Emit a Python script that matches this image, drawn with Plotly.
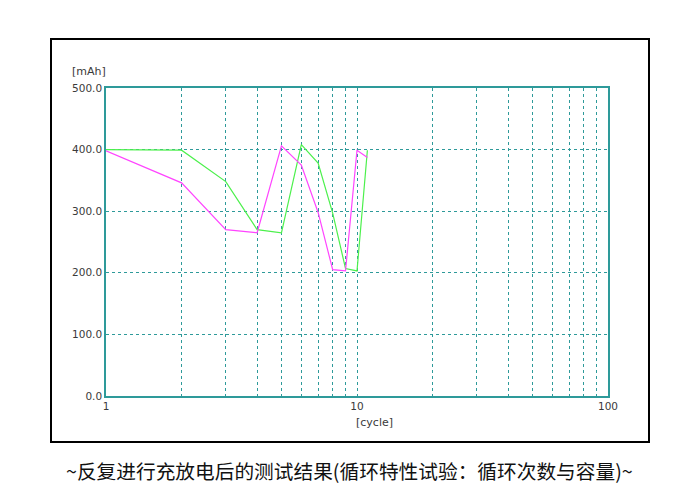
import plotly.graph_objects as go

cycles = [1, 2, 3, 4, 5, 6, 7, 8, 9, 10, 11]
capacity_pink = [398, 346, 270, 265, 406, 375, 298, 205, 203, 399, 387]
capacity_green = [400, 399, 348, 270, 265, 408, 378, 297, 207, 203, 399]

x_tickvals = [1, 2, 3, 4, 5, 6, 7, 8, 9, 10, 20, 30, 40, 50, 60, 70, 80, 90, 100]
x_ticktext = ["1", "", "", "", "", "", "", "", "", "10", "", "", "", "", "", "", "", "", "100"]
y_tickvals = [0, 100, 200, 300, 400, 500]
y_ticktext = ["0.0", "100.0", "200.0", "300.0", "400.0", "500.0"]

caption = "~反复进行充放电后的测试结果(循环特性试验：循环次数与容量)~"

OFF = 8  # default page body margin
W, H = 698 - OFF, 487 - OFF
L, R, T, B = 106 - OFF, 608 - OFF, 88 - OFF, 396 - OFF

teal = "#2e9a9a"
fig = go.Figure()
fig.add_trace(go.Scatter(x=cycles, y=capacity_green, mode="lines",
                         line=dict(color="#4cf04c", width=1.2), showlegend=False))
fig.add_trace(go.Scatter(x=cycles, y=capacity_pink, mode="lines",
                         line=dict(color="#ff44ff", width=1.2), showlegend=False))

fig.update_layout(
    width=W, height=H,
    margin=dict(l=L, r=W - R, t=T, b=H - B),
    paper_bgcolor="white", plot_bgcolor="white",
    font=dict(family="DejaVu Sans", size=10.5, color="#3a3a3a"),
    xaxis=dict(type="log", range=[0, 2], tickvals=x_tickvals, ticktext=x_ticktext,
               showgrid=True, gridcolor=teal, griddash="dot", gridwidth=1,
               showline=True, mirror=True, linecolor=teal, linewidth=1.5,
               ticks="", zeroline=False, fixedrange=True),
    yaxis=dict(range=[0, 500], tickvals=y_tickvals, ticktext=y_ticktext,
               showgrid=True, gridcolor=teal, griddash="dot", gridwidth=1,
               showline=True, mirror=True, linecolor=teal, linewidth=1.5,
               ticks="", zeroline=False, fixedrange=True),
)

pw, ph = R - L, B - T
def px(x):
    return (x - OFF - L) / pw
def py(y):
    return (B - (y - OFF)) / ph

fig.add_shape(type="rect", xref="paper", yref="paper",
              x0=px(51), x1=px(649), y0=py(442), y1=py(39),
              line=dict(color="black", width=2), fillcolor="rgba(0,0,0,0)", layer="below")

fig.add_annotation(text="[mAh]", xref="paper", yref="paper", x=px(89), y=py(72),
                   showarrow=False, xanchor="center", yanchor="middle",
                   font=dict(family="DejaVu Sans", size=11, color="#3a3a3a"))
fig.add_annotation(text="[cycle]", xref="paper", yref="paper", x=px(374), y=py(422),
                   showarrow=False, xanchor="center", yanchor="middle",
                   font=dict(family="DejaVu Sans", size=11, color="#3a3a3a"))
fig.add_annotation(text=caption, xref="paper", yref="paper", x=px(349), y=py(470),
                   showarrow=False, xanchor="center", yanchor="middle",
                   font=dict(family="Noto Sans CJK SC", size=19.7, color="#111111"))

fig.write_html("out.html")
